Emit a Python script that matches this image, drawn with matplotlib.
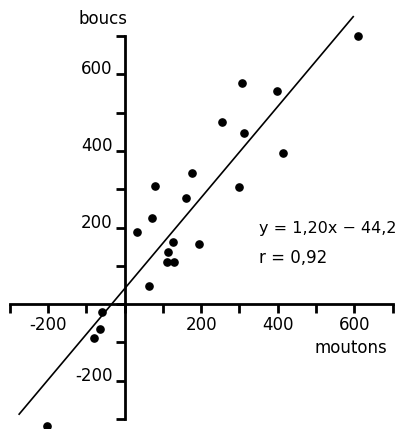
import matplotlib
matplotlib.use('Agg')
import matplotlib.pyplot as plt

# moutons (x) vs boucs (y)
moutons = [610, 307, 398, 255, 312, 414, 299, 176, 80, 161, 72, 33,
           127, 195, 114, 112, 129, 64, -59, -64, -80, -202]
boucs = [700, 577, 556, 475, 446, 394, 305, 342, 308, 277, 225, 188,
         162, 157, 136, 110, 110, 47, -21, -65, -89, -319]

# regression line as drawn on the figure
line_slope = 1.19
line_intercept = 40
line_x = [-275, 597]

ticks = [-300, -200, -100, 0, 100, 200, 300, 400, 500, 600, 700]
tick_labels = ['', '-200', '', '', '', '200', '', '400', '', '600', '']

fig = plt.figure(figsize=(4.08, 4.29), dpi=100)
ax = fig.add_axes([0, 0, 1, 1])
ax.set_xlim(-325, 740)
ax.set_ylim(-326, 794)

ax.plot(line_x, [line_slope * x + line_intercept for x in line_x],
        color='black', lw=1.2)
ax.plot(moutons, boucs, 'o', color='black', ms=5.2, clip_on=True)

# axes crossing at the origin
for side in ['top', 'right']:
    ax.spines[side].set_visible(False)
ax.spines['left'].set_position(('data', 0))
ax.spines['bottom'].set_position(('data', 0))
ax.spines['left'].set_bounds(-300, 700)
ax.spines['bottom'].set_bounds(-300, 700)
ax.spines['left'].set_linewidth(2)
ax.spines['bottom'].set_linewidth(2)

ax.set_xticks(ticks)
ax.set_xticklabels(tick_labels)
ax.set_yticks(ticks)
ax.set_yticklabels(tick_labels)
ax.tick_params(direction='out', length=6.5, width=2, labelsize=12, pad=2)
for lbl in ax.get_yticklabels():
    lbl.set_verticalalignment('baseline')

ax.text(-55, 745, 'boucs', fontsize=12, ha='center', va='center')
ax.text(590, -115, 'moutons', fontsize=12, ha='center', va='center')
ax.text(350, 198, 'y = 1,20x \u2212 44,2', fontsize=11.5, ha='left', va='center')
ax.text(350, 120, 'r = 0,92', fontsize=12, ha='left', va='center')

fig.savefig('out.png', dpi=100)
